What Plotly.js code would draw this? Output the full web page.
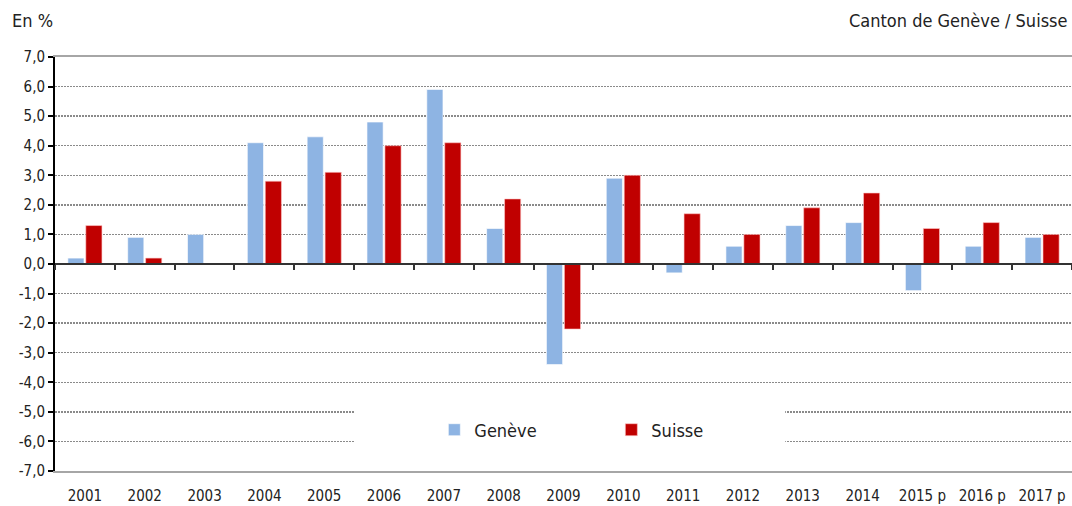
<!DOCTYPE html>
<html>
<head>
<meta charset="utf-8">
<script src="https://cdn.plot.ly/plotly-3.0.1.min.js"></script>
<style>html,body{margin:0;padding:0;background:#fff;}#chart{width:1072px;height:506px;}</style>
</head>
<body>
<div id="chart"></div>
<script>
const years = ["2001","2002","2003","2004","2005","2006","2007","2008","2009","2010","2011","2012","2013","2014","2015 p","2016 p","2017 p"];
const geneve = [0.2, 0.9, 1.0, 4.1, 4.3, 4.8, 5.9, 1.2, -3.4, 2.9, -0.3, 0.6, 1.3, 1.4, -0.9, 0.6, 0.9];
const suisse = [1.3, 0.2, 0.0, 2.8, 3.1, 4.0, 4.1, 2.2, -2.2, 3.0, 1.7, 1.0, 1.9, 2.4, 1.2, 1.4, 1.0];
const yTickVals = [-7,-6,-5,-4,-3,-2,-1,0,1,2,3,4,5,6,7];
const yTickText = ["-7,0","-6,0","-5,0","-4,0","-3,0","-2,0","-1,0","0,0","1,0","2,0","3,0","4,0","5,0","6,0","7,0"];

const FONT = "'DejaVu Sans Condensed', 'Liberation Sans Narrow', 'Arial Narrow', Arial, sans-serif";

const traces = [
  {type:'bar', name:'Genève', x:years, y:geneve, marker:{color:'#8EB4E3', line:{color:'rgba(255,255,255,0.6)', width:1}}, hoverinfo:'x+y'},
  {type:'bar', name:'Suisse', x:years, y:suisse, marker:{color:'#C00000', line:{color:'rgba(255,200,200,0.6)', width:1}}, hoverinfo:'x+y'},
  {type:'scatter', mode:'none', x:years, y:years.map(()=>0), xaxis:'x2', showlegend:false, hoverinfo:'skip'}
];

const layout = {
  width:1072, height:506,
  margin:{l:55, r:0, t:57, b:35},
  paper_bgcolor:'#fff', plot_bgcolor:'#fff',
  font:{family:FONT, size:15, color:'#222'},
  barmode:'group', bargap:0.4, bargroupgap:0.1,
  showlegend:true,
  legend:{orientation:'h', x:0.373, xanchor:'left', y:0.099, yanchor:'middle',
          font:{family:FONT, size:18, color:'#222'}, bgcolor:'rgba(0,0,0,0)',
          entrywidth:132, entrywidthmode:'pixels', traceorder:'normal'},
  xaxis:{type:'category', categoryarray:years, showgrid:false, zeroline:false,
         showline:true, linecolor:'#a6a6a6', linewidth:2, mirror:true,
         ticks:'', ticklabelstandoff:10, tickfont:{family:FONT, size:15, color:'#222'}},
  xaxis2:{type:'category', categoryarray:years, overlaying:'x', anchor:'free', position:0.5,
          side:'bottom', showgrid:false, zeroline:false, showline:true, linecolor:'#333', linewidth:2,
          ticks:'outside', tickson:'boundaries', ticklen:5, tickwidth:2, tickcolor:'#333',
          showticklabels:false, matches:'x'},
  yaxis:{range:[-7,7], tickvals:yTickVals, ticktext:yTickText, showgrid:true,
         gridcolor:'#8a8a8a', griddash:'2px,1px', gridwidth:1.5, zeroline:false,
         showline:true, linecolor:'#000', linewidth:2, ticks:'outside', ticklen:5, tickwidth:2, tickcolor:'#000',
         tickfont:{family:FONT, size:15, color:'#222'}},
  shapes:[
    {type:'rect', xref:'paper', yref:'y', x0:0.295, x1:0.718, y0:-4.5, y1:-6.5, fillcolor:'#fff', line:{width:0}, layer:'above'}
  ],
  annotations:[
    {text:'En %', xref:'paper', yref:'paper', x:-0.0442, y:1.089, xanchor:'left', yanchor:'middle', showarrow:false, font:{family:FONT, size:18, color:'#222'}},
    {text:'Canton de Genève / Suisse', xref:'paper', yref:'paper', x:0.998, y:1.089, xanchor:'right', yanchor:'middle', showarrow:false, font:{family:FONT, size:18, color:'#222'}}
  ]
};

Plotly.newPlot('chart', traces, layout, {staticPlot:true, displayModeBar:false});
</script>
</body>
</html>
